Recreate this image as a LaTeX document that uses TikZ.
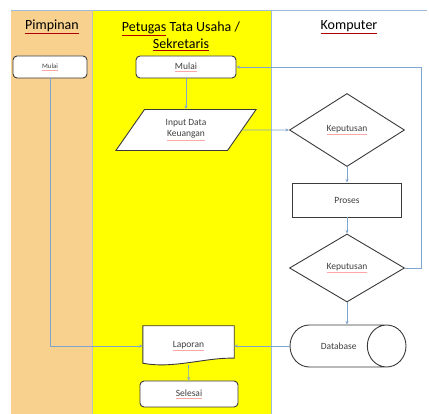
\documentclass[tikz,border=0pt]{standalone}
\usepackage{fontspec}
\setmainfont{Carlito}
\usepackage{xcolor}
\usepackage{tikz}
\usetikzlibrary{positioning,shapes.geometric,arrows.meta}
\definecolor{lanebeige}{HTML}{F9D18F}
\definecolor{laneyellow}{HTML}{FFFF00}
\definecolor{laneedge}{HTML}{9DBBD8}
\definecolor{flowblue}{HTML}{7FA6CE}
\definecolor{boxedge}{HTML}{3A3A3A}
\definecolor{boxtext}{HTML}{404040}
\newcommand{\spellmark}[1]{\textcolor{red!70!black}{\underline{\textcolor{black}{#1}}}}
\newcommand{\spellsoft}[1]{\textcolor{red!35}{\underline{\textcolor{boxtext}{#1}}}}

\begin{document}
\begin{tikzpicture}[
  x=1pt, y=-1pt,
  head/.style={align=center, font=\fontsize{14}{17}\selectfont, inner sep=0pt},
  box/.style={draw=boxedge, line width=0.9pt, fill=white, rounded corners=4pt, align=center, text=boxtext, font=\fontsize{9.5}{11}\selectfont, inner sep=0pt},
  plainbox/.style={draw=boxedge, line width=0.9pt, fill=white, align=center, text=boxtext, font=\fontsize{9.5}{11}\selectfont, inner sep=0pt},
  inbox/.style={trapezium, trapezium left angle=56, trapezium right angle=124, trapezium stretches=true, draw=boxedge, line width=0.9pt, fill=white, align=center, text=boxtext, font=\fontsize{9.5}{11}\selectfont, inner sep=0pt},
  choice/.style={diamond, draw=boxedge, line width=0.9pt, fill=white, text=boxtext, font=\fontsize{9.5}{11}\selectfont, inner sep=0pt},
  store/.style={cylinder, aspect=1, draw=boxedge, line width=0.9pt, fill=white, text=boxtext, font=\fontsize{9.5}{11}\selectfont, inner xsep=0pt, inner ysep=16pt},
  doc/.style={align=center, text=boxtext, font=\fontsize{9.5}{11}\selectfont, inner sep=0pt},
  flow/.style={draw=flowblue, line width=0.6pt, -{Stealth[length=3.5pt,width=3pt]}}
]
\useasboundingbox (0,0) rectangle (429,414);
\fill[white] (0,0) rectangle (429,414);
\fill[lanebeige] (11,10) rectangle (92,414);
\fill[laneyellow] (92,10) rectangle (271,414);
\draw[laneedge, line width=0.6pt] (11,10) -- (427,10);
\draw[laneedge!60!lanebeige, line width=0.6pt] (92,10) -- (92,414);
\draw[laneedge, line width=0.6pt] (271,10) -- (271,414);

\node[head] (hpimpinan) at (52,27) {\spellmark{Pimpinan}};
\node[head] (hpetugas) at (181,36) {\spellmark{Petugas} Tata Usaha /\\\spellmark{Sekretaris}};
\node[head] (hkomputer) at (349,27) {\spellmark{Komputer}};

\node[box, minimum width=74pt, minimum height=22pt, font=\fontsize{6.8}{8}\selectfont] (mulaip) at (50,67) {\spellsoft{Mulai}};
\node[box, minimum width=100pt, minimum height=22pt] (mulai) at (186,67) {\spellsoft{Mulai}};
\node[inbox, minimum width=141pt, minimum height=41pt] (input) at (186,130) {Input Data\\\spellsoft{Keuangan}};
\node[choice, minimum width=115pt, minimum height=73pt] (kep1) at (347,130) {\spellsoft{Keputusan}};
\node[plainbox, minimum width=109pt, minimum height=34pt] (proses) at (347,200) {Proses};
\node[choice, minimum width=115pt, minimum height=68pt] (kep2) at (347,268) {\spellsoft{Keputusan}};
\node[store, minimum width=42pt, minimum height=116pt, anchor=shape center] (db) at (348,346) {\hspace*{20pt}Database};
\node[doc, minimum width=91pt, minimum height=40pt] (laporan) at (188.5,346) {};
\draw[draw=boxedge, line width=0.9pt, fill=white] (laporan.north west) -- (laporan.north east) -- ([yshift=8pt]laporan.south east)
  .. controls ([xshift=-28pt,yshift=9pt]laporan.south east) and ([xshift=30pt,yshift=-3pt]laporan.south west) .. ([yshift=3pt]laporan.south west) -- cycle;
\node[doc] (laporantext) at (laporan) {\raisebox{3pt}{\spellsoft{Laporan}}};
\node[box, minimum width=98pt, minimum height=26pt] (selesai) at (189,394) {\spellsoft{Selesai}};

\coordinate (back) at (421,67);
\draw[flow] (mulai) -- (input);
\draw[flow] (input) -- (kep1);
\draw[flow] (kep1) -- (proses);
\draw[flow] (proses) -- (kep2);
\draw[flow] (kep2) -- (kep2 |- db.north);
\draw[flow] (kep2.east) -| (back) -- (mulai.east);
\draw[flow] (db.west) -- (laporan);
\draw[flow] (mulaip) |- (laporan.west);
\draw[flow] ([yshift=1pt]laporan.south) -- (selesai);
\end{tikzpicture}
\end{document}
